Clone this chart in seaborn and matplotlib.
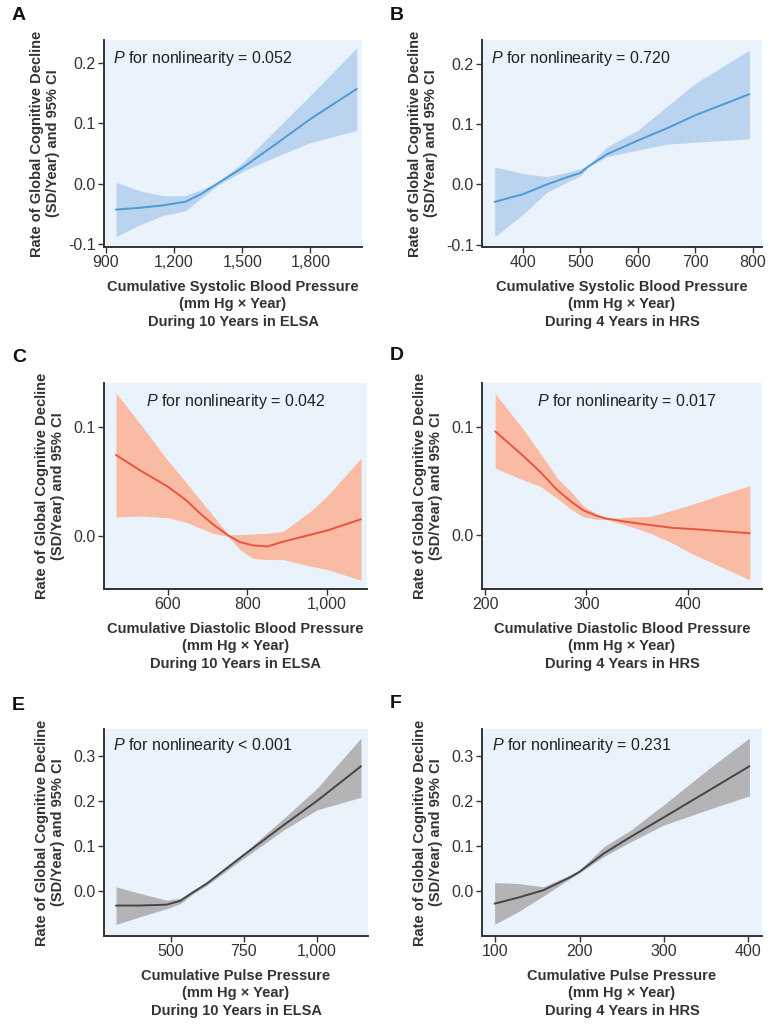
import matplotlib
matplotlib.use("Agg")
import numpy as np
import pandas as pd
import seaborn as sns
import matplotlib.pyplot as plt
from matplotlib.ticker import FuncFormatter

# Panel A - systolic, ELSA
a_x = [944, 1050, 1150, 1250, 1320, 1390, 1500, 1650, 1800, 2005]
a_fit = [-0.043, -0.040, -0.036, -0.030, -0.017, 0.0, 0.026, 0.066, 0.107, 0.157]
a_hi = [0.002, -0.012, -0.020, -0.020, -0.010, 0.002, 0.034, 0.090, 0.146, 0.225]
a_lo = [-0.088, -0.068, -0.053, -0.045, -0.024, -0.003, 0.020, 0.045, 0.068, 0.088]

# Panel B - systolic, HRS
b_x = [351, 401, 442, 477, 500, 514, 546, 600, 650, 700, 794]
b_fit = [-0.029, -0.016, 0.0, 0.012, 0.019, 0.030, 0.050, 0.073, 0.093, 0.115, 0.150]
b_hi = [0.029, 0.018, 0.013, 0.020, 0.026, 0.032, 0.062, 0.090, 0.129, 0.168, 0.223]
b_lo = [-0.087, -0.049, -0.013, 0.004, 0.014, 0.029, 0.046, 0.057, 0.067, 0.070, 0.076]

# Panel C - diastolic, ELSA
c_x = [470, 530, 600, 648, 681, 715, 753, 782, 815, 850, 891, 958, 1000, 1086]
c_fit = [0.074, 0.060, 0.045, 0.032, 0.0205, 0.010, 0.0, -0.006, -0.009, -0.010, -0.0055, 0.0007, 0.0046, 0.015]
c_hi = [0.131, 0.103, 0.069, 0.048, 0.033, 0.018, 0.0006, 0.001, 0.0015, 0.002, 0.004, 0.022, 0.036, 0.071]
c_lo = [0.017, 0.018, 0.0165, 0.012, 0.007, 0.002, -0.001, -0.013, -0.021, -0.022, -0.022, -0.028, -0.031, -0.041]

# Panel D - diastolic, HRS
d_x = [210, 238, 255, 271, 285, 297, 310, 320, 343, 363, 386, 402, 461]
d_fit = [0.096, 0.073, 0.058, 0.042, 0.031, 0.023, 0.018, 0.0154, 0.012, 0.0095, 0.0068, 0.006, 0.002]
d_hi = [0.131, 0.0975, 0.075, 0.053, 0.040, 0.027, 0.020, 0.0154, 0.017, 0.0175, 0.0235, 0.028, 0.046]
d_lo = [0.062, 0.051, 0.045, 0.034, 0.024, 0.017, 0.015, 0.0145, 0.0083, 0.002, -0.0077, -0.016, -0.041]

# Panel E - pulse pressure, ELSA
e_x = [314, 396, 487, 533, 579, 624, 749, 886, 1000, 1150]
e_fit = [-0.032, -0.032, -0.030, -0.0216, -0.0015, 0.017, 0.080, 0.147, 0.201, 0.278]
e_hi = [0.0097, -0.005, -0.020, -0.016, 0.002, 0.020, 0.084, 0.162, 0.229, 0.341]
e_lo = [-0.074, -0.057, -0.039, -0.028, -0.005, 0.013, 0.073, 0.136, 0.181, 0.209]

# Panel F - pulse pressure, HRS
f_x = [99, 126, 157, 189, 200, 229, 261, 300, 352, 402]
f_fit = [-0.028, -0.015, 0.002, 0.031, 0.043, 0.084, 0.121, 0.164, 0.222, 0.278]
f_hi = [0.019, 0.017, 0.0097, 0.036, 0.047, 0.099, 0.136, 0.192, 0.270, 0.341]
f_lo = [-0.074, -0.047, -0.011, 0.028, 0.041, 0.077, 0.110, 0.147, 0.181, 0.212]

p_texts = ["= 0.052", "= 0.720", "= 0.042", "= 0.017", "< 0.001", "= 0.231"]
letters = ["A", "B", "C", "D", "E", "F"]
xlabels = [
    "Cumulative Systolic Blood Pressure\n(mm Hg \u00d7 Year)\nDuring 10 Years in ELSA",
    "Cumulative Systolic Blood Pressure\n(mm Hg \u00d7 Year)\nDuring 4 Years in HRS",
    "Cumulative Diastolic Blood Pressure\n(mm Hg \u00d7 Year)\nDuring 10 Years in ELSA",
    "Cumulative Diastolic Blood Pressure\n(mm Hg \u00d7 Year)\nDuring 4 Years in HRS",
    "Cumulative Pulse Pressure\n(mm Hg \u00d7 Year)\nDuring 10 Years in ELSA",
    "Cumulative Pulse Pressure\n(mm Hg \u00d7 Year)\nDuring 4 Years in HRS",
]
ylabel = "Rate of Global Cognitive Decline\n(SD/Year) and 95% CI"

sns.set_style("ticks")
plt.rcParams["font.family"] = ["Liberation Sans", "DejaVu Sans"]
plt.rcParams["mathtext.fontset"] = "custom"
plt.rcParams["mathtext.it"] = "Liberation Sans:italic"
plt.rcParams["mathtext.rm"] = "Liberation Sans"
plt.rcParams["axes.unicode_minus"] = False

W, H = 783, 1029
fig = plt.figure(figsize=(W / 100, H / 100), dpi=100)

# axes boxes in pixels: left, top, right, bottom
boxes = [
    (104, 40, 362, 247), (482, 40, 762, 247),
    (104, 383, 367, 589), (482, 383, 762, 589),
    (104, 729, 368, 936), (482, 729, 762, 936),
]
panels = [
    (a_x, a_fit, a_hi, a_lo), (b_x, b_fit, b_hi, b_lo),
    (c_x, c_fit, c_hi, c_lo), (d_x, d_fit, d_hi, d_lo),
    (e_x, e_fit, e_hi, e_lo), (f_x, f_fit, f_hi, f_lo),
]
band_cols = ["#BAD3EE", "#BAD3EE", "#F9BBA4", "#F9BBA4", "#B4B4B6", "#B4B4B6"]
line_cols = ["#4D9BD6", "#4D9BD6", "#E8553F", "#E8553F", "#454545", "#454545"]
xlims = [(891, 2028), (329, 816), (440, 1101), (197, 473), (273, 1174), (84, 417)]
ylims = [(-0.105, 0.238), (-0.104, 0.24), (-0.049, 0.14), (-0.0495, 0.1406),
         (-0.0998, 0.361), (-0.1, 0.361)]
xticks = [[900, 1200, 1500, 1800], [400, 500, 600, 700, 800], [600, 800, 1000],
          [200, 300, 400], [500, 750, 1000], [100, 200, 300, 400]]
yticks = [[-0.1, 0.0, 0.1, 0.2], [-0.1, 0.0, 0.1, 0.2], [0.0, 0.1], [0.0, 0.1],
          [0.0, 0.1, 0.2, 0.3], [0.0, 0.1, 0.2, 0.3]]
ptext_x = [0.035, 0.032, 0.16, 0.196, 0.035, 0.036]
ptext_y = [0.913, 0.913, 0.91, 0.91, 0.92, 0.92]

for i, (l, t, r, b) in enumerate(boxes):
    ax = fig.add_axes([l / W, 1 - b / H, (r - l) / W, (b - t) / H])
    x, fit, hi, lo = panels[i]
    df = pd.DataFrame({"x": x, "fit": fit})
    ax.set_facecolor("#EAF2FB")
    ax.fill_between(x, lo, hi, color=band_cols[i], lw=0)
    sns.lineplot(data=df, x="x", y="fit", ax=ax, color=line_cols[i], lw=1.4)
    ax.set_xlim(*xlims[i])
    ax.set_ylim(*ylims[i])
    ax.set_xticks(xticks[i])
    ax.set_yticks(yticks[i])
    ax.xaxis.set_major_formatter(FuncFormatter(lambda v, p: f"{v:,.0f}"))
    ax.yaxis.set_major_formatter(FuncFormatter(lambda v, p: f"{v:.1f}"))
    for s in ["top", "right"]:
        ax.spines[s].set_visible(False)
    for s in ["left", "bottom"]:
        ax.spines[s].set_color("#333333")
        ax.spines[s].set_linewidth(1.4)
    ax.tick_params(length=4, width=1, color="#333333", labelsize=11.5,
                   labelcolor="#333333", pad=2)
    ax.set_xlabel(xlabels[i], fontsize=10.5, fontweight="bold", color="#333333",
                  linespacing=1.3, labelpad=7)
    ax.set_ylabel(ylabel, fontsize=10.5, fontweight="bold", color="#333333",
                  linespacing=1.2, labelpad=6)
    ax.text(ptext_x[i], ptext_y[i], r"$\it{P}$ for nonlinearity " + p_texts[i],
            transform=ax.transAxes, fontsize=11.5, color="#222222", va="center")
    lx = 12 if i % 2 == 0 else 390
    ly = [15, 15, 358, 355, 706, 703][i]
    fig.text(lx / W, 1 - ly / H, letters[i], fontsize=14, fontweight="bold",
             color="#111111", va="center")

fig.savefig("out.png", dpi=100)
